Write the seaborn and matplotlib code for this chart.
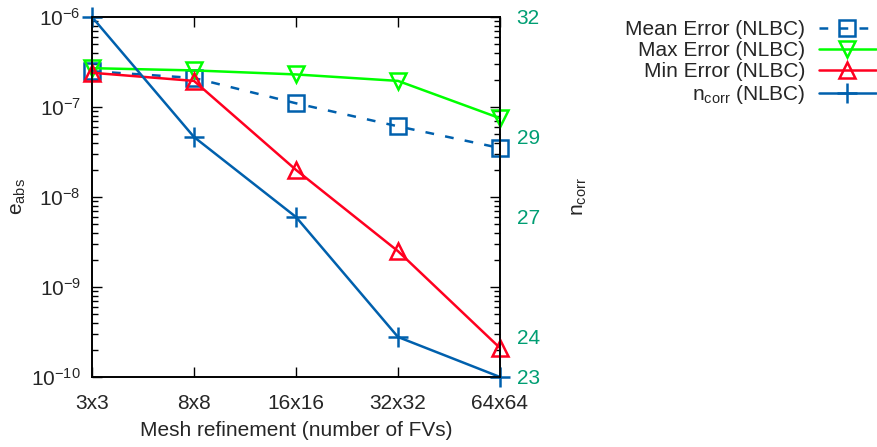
import numpy as np
import pandas as pd
import matplotlib
matplotlib.use("Agg")
import matplotlib.pyplot as plt
import seaborn as sns

# data
meshes = ["3x3", "8x8", "16x16", "32x32", "64x64"]
mean_err = [2.5e-7, 2.1e-7, 1.1e-7, 6.1e-8, 3.5e-8]
max_err = [2.7e-7, 2.55e-7, 2.3e-7, 1.95e-7, 7.5e-8]
min_err = [2.4e-7, 1.95e-7, 2.0e-8, 2.5e-9, 2.1e-10]
n_corr = [32, 29, 27, 24, 23]

sns.set_style("ticks")
plt.rcParams["font.family"] = ["Liberation Sans", "DejaVu Sans"]
plt.rcParams["mathtext.fontset"] = "custom"
plt.rcParams["mathtext.rm"] = "Liberation Sans"
plt.rcParams["mathtext.it"] = "Liberation Sans"
FS = 15

blue = "#0060ad"
green = "#00ff00"
red = "#ff0020"
tgreen = "#009e73"

pos = np.arange(len(meshes))
df = pd.DataFrame({"pos": pos, "mean": mean_err, "max": max_err,
                   "min": min_err, "ncorr": n_corr})

fig = plt.figure(figsize=(8.78, 4.47), dpi=100)
ax = fig.add_axes([92 / 878, 1 - 377 / 447, 408 / 878, 360 / 447])
ax.set_yscale("log")

mk = dict(markersize=12, markerfacecolor="none", markeredgewidth=1.8,
          clip_on=False, zorder=5)
sns.lineplot(data=df, x="pos", y="mean", ax=ax, color=blue, lw=1.8,
             marker="s", markeredgecolor=blue,
             label="Mean Error (NLBC)", **mk)
ax.lines[-1].set_dashes([3.5, 4.5])
sns.lineplot(data=df, x="pos", y="max", ax=ax, color=green, lw=1.8,
             marker="v", markeredgecolor=green, label="Max Error (NLBC)", **mk)
sns.lineplot(data=df, x="pos", y="min", ax=ax, color=red, lw=1.8,
             marker="^", markeredgecolor=red, label="Min Error (NLBC)", **mk)

# n_corr lives on a linear right axis
ax2 = ax.twinx()
sns.lineplot(data=df, x="pos", y="ncorr", ax=ax2, color=blue, lw=1.8,
             marker="+", markersize=15, markeredgewidth=1.8,
             markeredgecolor=blue, clip_on=False,
             label=r"$\mathregular{n_{corr}}$ (NLBC)")

ax.set_xlim(0, 4)
ax.set_ylim(1e-10, 1e-6)
ax2.set_ylim(23, 32)
ax.set_xticks(pos)
ax.set_xticklabels(meshes, fontsize=FS)
ax.tick_params(axis="both", which="both", direction="in", top=True,
               right=True, labelsize=FS, width=1.0, color="black")
ax.tick_params(which="major", length=7)
ax.tick_params(axis="x", which="major", pad=12)
ax.tick_params(axis="y", which="major", pad=8)
ax.tick_params(which="minor", length=4)
ax.tick_params(axis="x", which="minor", top=False, bottom=False)

ax2.set_yticks(n_corr)
ax2.tick_params(axis="y", length=0, labelsize=FS, labelcolor=tgreen, pad=12)

ax.set_xlabel("Mesh refinement (number of FVs)", fontsize=FS, labelpad=6)
ax.set_ylabel(r"$\mathregular{e_{abs}}$", fontsize=FS, labelpad=2)
ax2.set_xlabel("")
ax2.set_ylabel(r"$\mathregular{n_{corr}}$", fontsize=FS, labelpad=22)

for a in (ax, ax2):
    for s in a.spines.values():
        s.set_linewidth(1.2)
        s.set_color("black")

h1, l1 = ax.get_legend_handles_labels()
h2, l2 = ax2.get_legend_handles_labels()
ax.get_legend().remove()
ax2.get_legend().remove()
fig.legend(h1 + h2, l1 + l2, loc="upper right",
           bbox_to_anchor=(1.0, 1 - 18 / 447),
           frameon=False, fontsize=FS, markerfirst=False, handlelength=2.75,
           labelspacing=0.1, handletextpad=0.65, borderaxespad=0.0,
           borderpad=0.1)

fig.savefig("out.png", dpi=100)
